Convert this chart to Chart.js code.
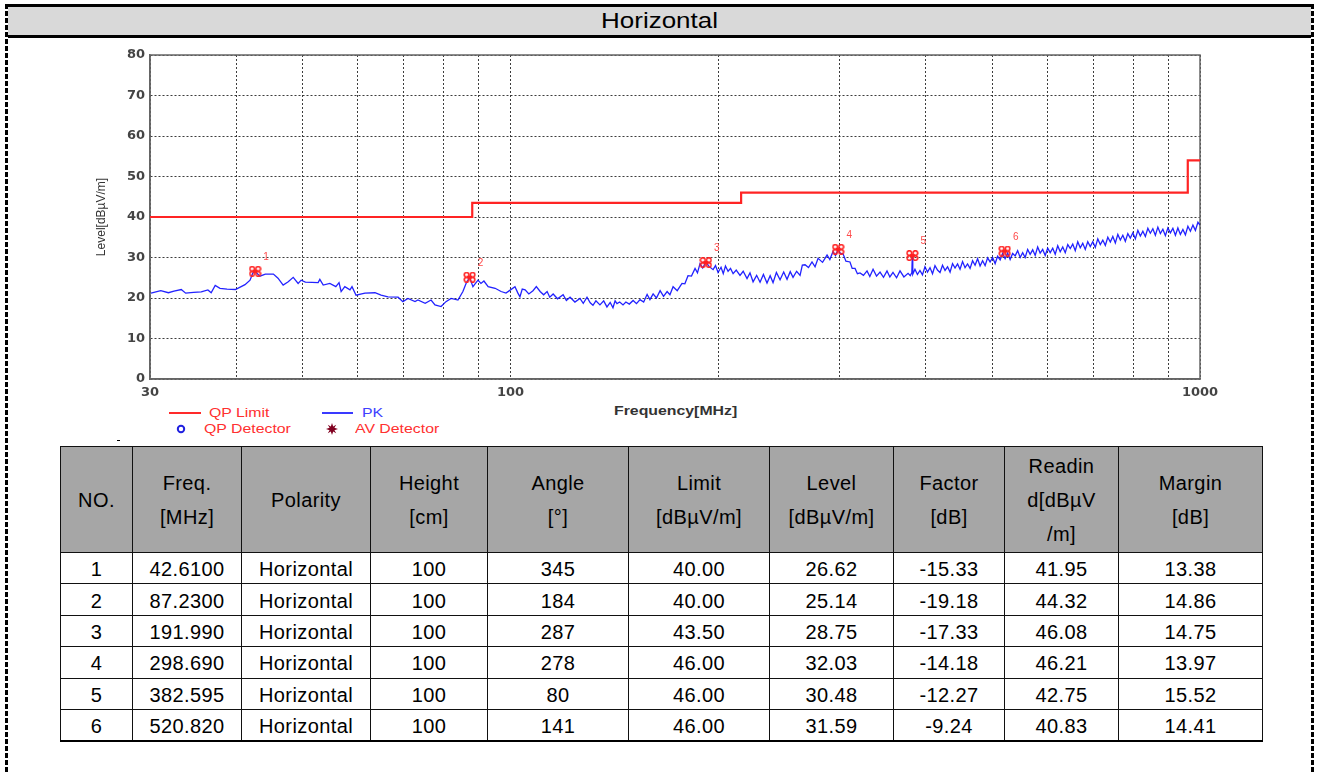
<!DOCTYPE html>
<html>
<head>
<meta charset="utf-8">
<script src="https://cdn.jsdelivr.net/npm/chart.js@4.4.0/dist/chart.umd.min.js"></script>
<style>
  body { margin: 0; background: #fff; font-family: "Liberation Sans", Arial, sans-serif; }
  #page { position: relative; width: 1318px; height: 774px; overflow: hidden; }
  .dash { position: absolute; width: 3px; background: repeating-linear-gradient(to bottom, #000 0 5px, transparent 5px 7px); }
  #titlebar { position: absolute; left: 8px; top: 4px; width: 1303px; height: 28px; background: #d9d9d9;
    border-top: 3px solid #000; border-bottom: 3px solid #000; text-align: center; }
  #titlebar span { display: inline-block; font-size: 22px; line-height: 28px; transform: scaleX(1.18); }
  #chartBox { position: absolute; left: 90px; top: 40px; }
  .stretch { position: absolute; white-space: nowrap; transform-origin: 0 50%; transform: scaleX(1.32); font-size: 12px; line-height: 14px; }
  #ytitle { position: absolute; left: 101px; top: 217px; font-size: 12px; color: #333; white-space: nowrap;
    transform: translate(-50%, -50%) rotate(-90deg); }
  .lline { position: absolute; height: 2px; }
  table { position: absolute; left: 60px; top: 446px; width: 1202px; border-collapse: collapse; table-layout: fixed; }
  th, td { border: 1.5px solid #111; text-align: center; font-size: 20px; font-weight: normal; padding: 0; letter-spacing: 0.4px; }
  th { background: #a6a6a6; height: 105px; line-height: 34px; }
  td { height: 27.4px; padding-top: 3px; line-height: 27px; }
  tr.last td { border-bottom: 2px solid #000; }
</style>
</head>
<body>
<div id="page">
  <div class="dash" style="left:5px; top:4px; height:770px;"></div>
  <div class="dash" style="left:1311px; top:4px; height:770px;"></div>
  <div id="titlebar"><span>Horizontal</span></div>

  <div id="chartBox"><canvas id="emiChart" width="1140" height="364"></canvas></div>

  <div id="ytitle">Level[dBµV/m]</div>
  <div class="stretch" style="left:614px; top:404px; font-weight:bold; color:#333;">Frequency[MHz]</div>

  <div class="lline" style="left:169px; top:412px; width:32px; background:#ff2a2a;"></div>
  <div class="stretch" style="left:209px; top:406px; color:#ff3030;">QP Limit</div>
  <div class="lline" style="left:322px; top:412px; width:31px; background:#3a3aff;"></div>
  <div class="stretch" style="left:362px; top:406px; color:#4040ff;">PK</div>
  <svg style="position:absolute; left:176px; top:424px;" width="10" height="10"><circle cx="5" cy="5" r="3.2" fill="none" stroke="#2020e0" stroke-width="2"/></svg>
  <div class="stretch" style="left:204px; top:422px; color:#ff3030;">QP Detector</div>
  <svg style="position:absolute; left:326px; top:423px;" width="12" height="12"><polygon points="6,0 7.2,3.6 10.2,1.8 8.4,4.8 12,6 8.4,7.2 10.2,10.2 7.2,8.4 6,12 4.8,8.4 1.8,10.2 3.6,7.2 0,6 3.6,4.8 1.8,1.8 4.8,3.6" fill="#800020"/></svg>
  <div class="stretch" style="left:355px; top:422px; color:#ff3030;">AV Detector</div>
  <div style="position:absolute; left:117px; top:440px; width:3px; height:1px; background:#000;"></div>

  <table id="resultTable">
    <colgroup>
      <col style="width:72px"><col style="width:109px"><col style="width:129px"><col style="width:117px"><col style="width:141px">
      <col style="width:141px"><col style="width:124px"><col style="width:111px"><col style="width:114px"><col style="width:144px">
    </colgroup>
    <thead>
      <tr>
        <th>NO.</th><th>Freq.<br>[MHz]</th><th>Polarity</th><th>Height<br>[cm]</th><th>Angle<br>[°]</th>
        <th>Limit<br>[dBµV/m]</th><th>Level<br>[dBµV/m]</th><th>Factor<br>[dB]</th><th>Readin<br>d[dBµV<br>/m]</th><th>Margin<br>[dB]</th>
      </tr>
    </thead>
    <tbody id="tbody"></tbody>
  </table>
</div>

<script>
// PK trace
var pkFreq = [
  30.1, 31.1, 31.9, 32.5, 33.3, 33.8, 34.7, 35.6, 36.4, 36.8, 37.3, 37.9, 38.8, 39.9, 41.2, 41.9, 42.3, 42.6,
  43.3, 44.1, 45.3, 46.0, 46.8, 47.6, 48.4, 49.2, 49.7, 50.4, 52.6, 52.9, 53.5, 54.7, 55.8, 56.4, 56.8, 57.5,
  58.5, 58.9, 59.7, 61.5, 63.6, 64.9, 66.4, 68.7, 69.8, 71.0, 72.7, 73.4, 75.2, 76.7, 77.7, 79.3, 80.6, 82.0,
  83.9, 85.3, 86.2, 87.23, 88.2, 89.7, 90.6, 91.5, 92.8, 95.0, 96.9, 98.5,
  100, 101.5, 102.5, 103.2, 104, 105, 106.3, 107.8, 109, 110.4, 111.7, 113, 114, 115.3, 117, 119.2, 120.5, 122,
  124, 126.1, 127.5, 129.1, 130.5, 131.7, 133, 134.8, 136.5, 138, 139.5, 140.8, 141.8, 142.7, 144, 145.6, 147,
  148.7, 150.6, 152.3, 154.1, 156, 157.8, 159.3, 161, 162.8, 164.8, 166.7, 168.7, 170.3, 172.1, 174.5, 177.3,
  179, 180.9, 183, 185.2, 186.7, 188.3, 190, 192, 194, 196.7, 198.3, 200, 202, 203.5, 205, 206.8, 208.5, 210.3,
  212.5, 215.2, 217.5, 220.3, 222.5, 224.8, 227.5, 230.1, 232.7, 235.5, 238, 240.3, 243, 246, 249, 251.8, 254.5,
  256.9, 260, 263, 265, 267.4, 270.5, 273.7, 276.5, 279.3, 283.5, 287.8, 290.5, 293.6, 296, 298.7, 301, 303.6,
  306.5, 310.7, 313, 316, 318.5, 321.3, 325, 328.9, 332, 335.6, 339.5, 343.5, 347.5, 351.6, 355, 358.7, 363,
  367.2, 372, 377.2, 380, 382.0, 382.6, 383.2,
  386.0, 389.2, 392.5, 395.8, 399.1, 402.5, 405.9, 409.3, 412.7, 416.2,
  419.7, 423.2, 426.8, 430.4, 434.0, 437.6, 441.3, 445.0, 448.7, 452.5,
  456.3, 460.1, 464.0, 467.9, 471.8, 475.8, 479.8, 483.8, 487.9, 492.0,
  496.1, 500.3, 504.5, 508.7, 513.0, 517.3, 521.6, 526.0, 530.4, 534.9,
  539.4, 543.9, 548.5, 553.1, 557.7, 562.4, 567.1, 571.9, 576.7, 581.5,
  586.4, 591.3, 596.3, 601.3, 606.4, 611.5, 616.6, 621.8, 627.0, 632.3,
  637.6, 643.0, 648.4, 653.8, 659.3, 664.8, 670.4, 676.0, 681.7, 687.4,
  693.2, 699.0, 704.9, 710.8, 716.8, 722.8, 728.9, 735.0, 741.2, 747.4,
  753.7, 760.0, 766.4, 772.8, 779.3, 785.8, 792.4, 799.1, 805.8, 812.6,
  819.4, 826.3, 833.2, 840.2, 847.2, 854.3, 861.5, 868.7, 876.0, 883.4,
  890.8, 898.3, 905.8, 913.4, 921.1, 928.8, 936.6, 944.5, 952.4, 960.4,
  968.5, 976.6, 984.8, 993.1, 1000
];
var pkLevel = [
  21.2, 21.8, 21.3, 21.7, 22.1, 21.2, 21.4, 21.5, 22.0, 21.3, 23.1, 22.4, 22.2, 22.1, 23.3, 24.4, 26.2, 26.6,
  25.4, 25.9, 25.9, 24.9, 23.2, 24.0, 25.1, 23.6, 24.4, 23.9, 23.8, 24.6, 23.2, 23.6, 22.8, 23.8, 21.6, 22.8,
  22.0, 22.8, 20.7, 21.2, 21.3, 20.7, 20.3, 20.2, 19.1, 19.9, 19.1, 19.5, 18.7, 19.5, 18.3, 17.9, 19.1, 19.9,
  19.5, 21.6, 23.6, 25.1, 22.8, 24.4, 23.6, 24.2, 22.8, 22.4, 21.6, 21.2,
  22.0, 22.8, 21.2, 20.3, 22.2, 22.0, 21.0, 21.8, 22.8, 21.6, 20.8, 21.6, 20.2, 21.0, 19.8, 20.8, 19.4, 20.2,
  19.0, 19.9, 18.7, 20.2, 18.8, 18.2, 19.3, 18.3, 19.3, 17.8, 18.9, 17.6, 19.3, 18.6, 19.0, 18.3, 19.0,
  18.5, 19.4, 18.6, 19.6, 19.0, 20.9, 19.6, 21.0, 20.0, 21.8, 20.4, 21.6, 20.8, 22.8, 21.8, 23.6,
  23.5, 25.5, 25.4, 27.3, 26.2, 28.5, 27.4, 28.9, 27.8, 27.0, 28.0, 26.3, 27.6, 26.0, 27.9, 26.6, 27.3, 26.0,
  26.9, 25.6, 26.6, 24.8, 26.2, 24.0, 25.6, 23.9, 25.8, 23.7, 25.5, 23.8, 26.3, 24.5, 26.4, 24.6, 26.5,
  25.1, 26.6, 25.6, 28.1, 28.2, 27.5, 28.9, 27.7, 29.8, 28.8, 30.6, 29.5, 31.5, 30.5, 32.0, 31.0, 30.9,
  29.1, 28.9, 27.3, 27.3, 26.0, 26.2, 25.6, 26.7, 25.3, 27.1, 25.4, 26.4, 25.1, 26.7, 25.2, 26.3, 25.0,
  26.7, 25.2, 26.1, 25.5, 26.3, 30.5, 25.9,
  27.1, 25.8, 26.8, 25.7, 27.7, 26.4, 27.5, 26.0, 28.0, 26.9,
  26.3, 28.1, 26.8, 27.7, 26.4, 28.5, 27.4, 28.4, 27.1, 29.0,
  27.5, 28.4, 27.3, 29.2, 28.1, 29.7, 27.9, 29.2, 28.0, 29.9,
  28.9, 30.0, 28.5, 30.3, 29.4, 31.0, 29.7, 31.1, 29.5, 31.0,
  30.4, 31.7, 30.0, 31.2, 30.0, 32.0, 30.8, 31.9, 30.5, 32.6,
  31.1, 32.0, 30.5, 32.3, 31.2, 32.3, 30.8, 32.9, 31.4, 32.6,
  31.2, 33.2, 32.2, 33.3, 31.7, 33.9, 32.4, 33.5, 32.0, 33.9,
  32.7, 33.9, 32.5, 34.6, 33.2, 34.3, 33.0, 35.0, 33.8, 35.2,
  33.6, 35.7, 34.3, 35.5, 34.0, 35.9, 34.8, 36.1, 34.6, 36.7,
  35.3, 36.5, 35.2, 37.2, 36.0, 37.1, 35.5, 37.5, 35.9, 37.0,
  35.4, 37.3, 36.1, 37.2, 35.5, 37.3, 35.7, 36.9, 35.6, 37.7,
  36.5, 38.0, 36.7, 38.7, 38.0
];

// QP limit (stepped)
var limitFreq = [30, 88, 88, 216, 216, 960, 960, 1000];
var limitLevel = [40, 40, 43.5, 43.5, 46, 46, 54, 54];

// final measurement points
var markFreq = [42.61, 87.23, 191.99, 298.69, 382.595, 520.82];
var markLevel = [26.62, 25.14, 28.75, 32.03, 30.48, 31.59];

// axis
var xGridFreq = [30, 40, 50, 60, 70, 80, 90, 100, 200, 300, 400, 500, 600, 700, 800, 900, 1000];
var xTickLabels = [30, 100, 1000];

// table
var tNo = [1, 2, 3, 4, 5, 6];
var tFreq = ['42.6100', '87.2300', '191.990', '298.690', '382.595', '520.820'];
var tPolarity = ['Horizontal', 'Horizontal', 'Horizontal', 'Horizontal', 'Horizontal', 'Horizontal'];
var tHeight = [100, 100, 100, 100, 100, 100];
var tAngle = [345, 184, 287, 278, 80, 141];
var tLimit = ['40.00', '40.00', '43.50', '46.00', '46.00', '46.00'];
var tLevel = ['26.62', '25.14', '28.75', '32.03', '30.48', '31.59'];
var tFactor = ['-15.33', '-19.18', '-17.33', '-14.18', '-12.27', '-9.24'];
var tReading = ['41.95', '44.32', '46.08', '46.21', '42.75', '40.83'];
var tMargin = ['13.38', '14.86', '14.75', '13.97', '15.52', '14.41'];

var body = document.getElementById('tbody');
for (var i = 0; i < tNo.length; i++) {
  var tr = document.createElement('tr');
  if (i == tNo.length - 1) tr.className = 'last';
  [tNo[i], tFreq[i], tPolarity[i], tHeight[i], tAngle[i], tLimit[i], tLevel[i], tFactor[i], tReading[i], tMargin[i]].forEach(function (v) {
    var td = document.createElement('td');
    td.textContent = v;
    tr.appendChild(td);
  });
  body.appendChild(tr);
}

function makeMarker() {
  var c = document.createElement('canvas');
  c.width = 13; c.height = 11;
  var g = c.getContext('2d');
  g.strokeStyle = '#ff2020';
  g.lineWidth = 1.6;
  [[3.5, 3], [9.5, 3], [3.5, 8], [9.5, 8]].forEach(function (p) {
    g.beginPath(); g.arc(p[0], p[1], 2.3, 0, Math.PI * 2); g.stroke();
  });
  g.fillStyle = '#ff2020';
  g.fillRect(4, 4, 5, 3);
  return c;
}

var framePlugin = {
  id: 'frame',
  beforeDatasetsDraw: function (chart) {
    var a = chart.chartArea, ctx = chart.ctx;
    ctx.save();
    ctx.strokeStyle = '#666';
    ctx.lineWidth = 1.5;
    ctx.strokeRect(a.left, a.top, a.right - a.left, a.bottom - a.top);
    ctx.restore();
  }
};

var markLabels = {
  id: 'markLabels',
  afterDatasetsDraw: function (chart) {
    var ctx = chart.ctx, xs = chart.scales.x, ys = chart.scales.y;
    ctx.save();
    ctx.fillStyle = '#ff4a4a';
    ctx.font = '10px "Liberation Sans", Arial';
    ctx.textAlign = 'center';
    ctx.textBaseline = 'middle';
    for (var i = 0; i < markFreq.length; i++) {
      ctx.fillText(String(i + 1), xs.getPixelForValue(markFreq[i]) + 11, ys.getPixelForValue(markLevel[i]) - 14);
    }
    ctx.restore();
  }
};

Chart.defaults.font.family = '"DejaVu Sans", sans-serif';

var ctx = document.getElementById('emiChart').getContext('2d');
var emiChart = new Chart(ctx, {
  type: 'line',
  data: {
    datasets: [{
      label: 'Markers',
      data: markFreq.map(function (f, i) { return { x: f, y: markLevel[i] }; }),
      showLine: false,
      pointStyle: makeMarker(),
      pointRadius: 6
    }, {
      label: 'QP Limit',
      data: limitFreq.map(function (f, i) { return { x: f, y: limitLevel[i] }; }),
      borderColor: 'rgb(255, 36, 36)',
      borderWidth: 2.2,
      pointRadius: 0,
      tension: 0
    }, {
      label: 'PK',
      data: pkFreq.map(function (f, i) { return { x: f, y: pkLevel[i] }; }),
      borderColor: 'rgba(10, 10, 255, 0.9)',
      borderWidth: 1.3,
      pointRadius: 0,
      tension: 0
    }]
  },
  options: {
    responsive: false,
    animation: false,
    layout: { padding: { left: 0, right: 30, top: 15, bottom: 0 } },
    scales: {
      x: {
        type: 'logarithmic',
        min: 30,
        max: 1000,
        afterBuildTicks: function (s) { s.ticks = xGridFreq.map(function (v) { return { value: v }; }); },
        afterFit: function (s) { s.height = 25; },
        grid: { color: 'rgba(40, 40, 40, 0.9)', lineWidth: 1, drawTicks: false },
        border: { color: '#666', width: 1.5, dash: [2, 2] },
        ticks: {
          autoSkip: false,
          maxRotation: 0,
          padding: 6,
          color: '#444',
          font: { size: 13, weight: 'bold' },
          callback: function (v) { return xTickLabels.indexOf(v) >= 0 ? String(v) : ''; }
        }
      },
      y: {
        min: 0,
        max: 80,
        afterFit: function (s) { s.width = 60; },
        grid: { color: 'rgba(40, 40, 40, 0.9)', lineWidth: 1, drawTicks: false },
        border: { color: '#666', width: 1.5, dash: [2, 2] },
        ticks: { stepSize: 10, padding: 5, color: '#444', font: { size: 13, weight: 'bold' } }
      }
    },
    plugins: {
      legend: { display: false },
      tooltip: { enabled: false }
    }
  },
  plugins: [framePlugin, markLabels]
});
</script>
</body>
</html>
